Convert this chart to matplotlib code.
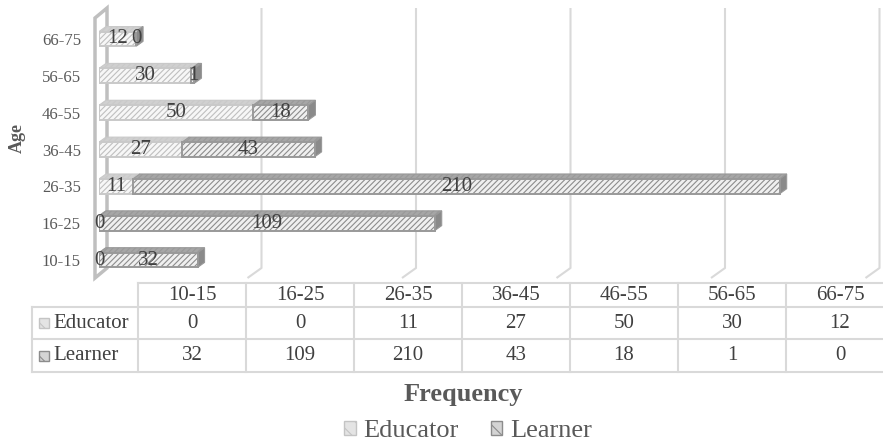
import matplotlib
matplotlib.use("Agg")
import matplotlib.pyplot as plt
from matplotlib.patches import Polygon, Rectangle

# data
ages = ["10-15", "16-25", "26-35", "36-45", "46-55", "56-65", "66-75"]
educator = [0, 0, 11, 27, 50, 30, 12]
learner = [32, 109, 210, 43, 18, 1, 0]
series_names = ["Educator", "Learner"]
grid_ticks = [50, 100, 150, 200, 250]

W, H = 883, 445
plt.rcParams['font.family'] = ['Liberation Serif', 'DejaVu Serif']
plt.rcParams['hatch.linewidth'] = 0.8

txt = '#595959'
dark = '#404040'
line = '#d9d9d9'

# style per series: face, hatch colour, edge, top face, side face, key box
styles = {
    "Educator": dict(face='#f7f7f7', hatch='#bfbfbf', edge='#c9c9c9', top='#d0d0d0', side='#bdbdbd',
                     key_face='#e4e4e4', key_edge='#c4c4c4'),
    "Learner": dict(face='#f0f0f0', hatch='#8c8c8c', edge='#999999', top='#a6a6a6', side='#8a8a8a',
                    key_face='#d4d4d4', key_edge='#8c8c8c'),
}

fig = plt.figure(figsize=(W / 100, H / 100), dpi=100)

# background layer in pixel coords: back wall, gridlines, table, titles
bg = fig.add_axes([0, 0, 1, 1], zorder=0)
bg.set_xlim(0, W)
bg.set_ylim(H, 0)
bg.axis('off')

# back plane gridlines (3D wall)
back_x0, back_ppu = 107, 3.09
for t in grid_ticks:
    gx = back_x0 + t * back_ppu
    bg.plot([gx, gx, gx - 14], [8, 268, 278], color=line, lw=1.5, solid_capstyle='butt')

# left wall
bg.add_patch(Polygon([(95, 18), (107, 8), (107, 268), (95, 278)], closed=True,
                     facecolor='white', edgecolor='#bfbfbf', lw=2.5))

# bars
top_px, bot_px, left_px, right_px = 20.5, 278.5, 99, 880
ax = fig.add_axes([left_px / W, 1 - bot_px / H, (right_px - left_px) / W, (bot_px - top_px) / H], zorder=1)
ax.patch.set_alpha(0)
ppu = 3.08
ax.set_xlim(0, (right_px - left_px) / ppu)
ax.set_ylim(-0.5, len(ages) - 0.5)
bh = 0.40
dx = 7 / ppu
dy = 5 / ((bot_px - top_px) / len(ages))

ypos = list(range(len(ages)))
lefts = [0] * len(ages)
for name, vals in zip(series_names, [educator, learner]):
    st = styles[name]
    bars = ax.barh(ypos, vals, height=bh, left=lefts, color=st['face'],
                   edgecolor=st['hatch'], hatch='//////', lw=0, zorder=3)
    for b in bars:
        x, y, w, h = b.get_x(), b.get_y(), b.get_width(), b.get_height()
        ax.add_patch(Rectangle((x, y), w, h, fill=False, edgecolor=st['edge'], lw=1.4, zorder=4))
        ax.add_patch(Polygon([(x, y + h), (x + w, y + h), (x + w + dx, y + h + dy), (x + dx, y + h + dy)],
                             closed=True, facecolor=st['top'], edgecolor=st['edge'], lw=0.8,
                             hatch='//////', zorder=2))
        ax.add_patch(Polygon([(x + w, y), (x + w + dx, y + dy), (x + w + dx, y + h + dy), (x + w, y + h)],
                             closed=True, facecolor=st['side'], edgecolor=st['edge'], lw=0.8, zorder=2))
    ax.bar_label(bars, labels=[str(v) for v in vals], label_type='center',
                 fontsize=15, color=dark, zorder=6)
    lefts = [l + v for l, v in zip(lefts, vals)]

ax.set_yticks(ypos)
ax.set_yticklabels(ages, fontsize=12, color=txt)
ax.tick_params(axis='y', length=0, pad=13)
ax.set_xticks([])
for s in ax.spines.values():
    s.set_visible(False)

bg.text(17, 138, "Age", rotation=90, ha='center', va='center', fontsize=13,
        fontweight='bold', color=txt)

# data table
col0, col_w, lab_x0 = 138, 108, 32
rows_y = [283, 307, 339, 372]
ncol = len(ages)
right = col0 + col_w * ncol
bg.plot([col0, right], [rows_y[0]] * 2, color=line, lw=1.5)
for ry in rows_y[1:]:
    bg.plot([lab_x0, right], [ry, ry], color=line, lw=1.5)
bg.plot([lab_x0, lab_x0], [rows_y[1], rows_y[3]], color=line, lw=1.5)
for i in range(ncol + 1):
    cx = col0 + col_w * i
    bg.plot([cx, cx], [rows_y[0], rows_y[3]], color=line, lw=1.5)

for i, a in enumerate(ages):
    cx = col0 + col_w * (i + 0.5)
    bg.text(cx, (rows_y[0] + rows_y[1]) / 2, a, ha='center', va='center', fontsize=15, color=dark)
    bg.text(cx, (rows_y[1] + rows_y[2]) / 2, str(educator[i]), ha='center', va='center', fontsize=15, color=dark)
    bg.text(cx, (rows_y[2] + rows_y[3]) / 2, str(learner[i]), ha='center', va='center', fontsize=15, color=dark)

for r, name in enumerate(series_names):
    st = styles[name]
    yc = (rows_y[r + 1] + rows_y[r + 2]) / 2
    bg.add_patch(Rectangle((39, yc - 5), 10, 10, facecolor=st['key_face'], edgecolor=st['key_edge'],
                           hatch='\\\\', lw=1.0))
    bg.text(53, yc, name, ha='left', va='center', fontsize=15, color=dark)

bg.text(463, 394, "Frequency", ha='center', va='center', fontsize=19,
        fontweight='bold', color=txt)

# legend
handles = [Rectangle((0, 0), 1, 1, facecolor=styles[n]['key_face'], edgecolor=styles[n]['key_edge'],
                     hatch='\\\\', lw=1.0) for n in series_names]
fig.legend(handles, series_names, loc='center', bbox_to_anchor=(468 / W, 1 - 431 / H),
           ncol=2, frameon=False, fontsize=19, handlelength=0.45, handleheight=0.45,
           handletextpad=0.3, columnspacing=1.2, labelcolor=txt, borderpad=0)

fig.savefig("out.png", dpi=100)
